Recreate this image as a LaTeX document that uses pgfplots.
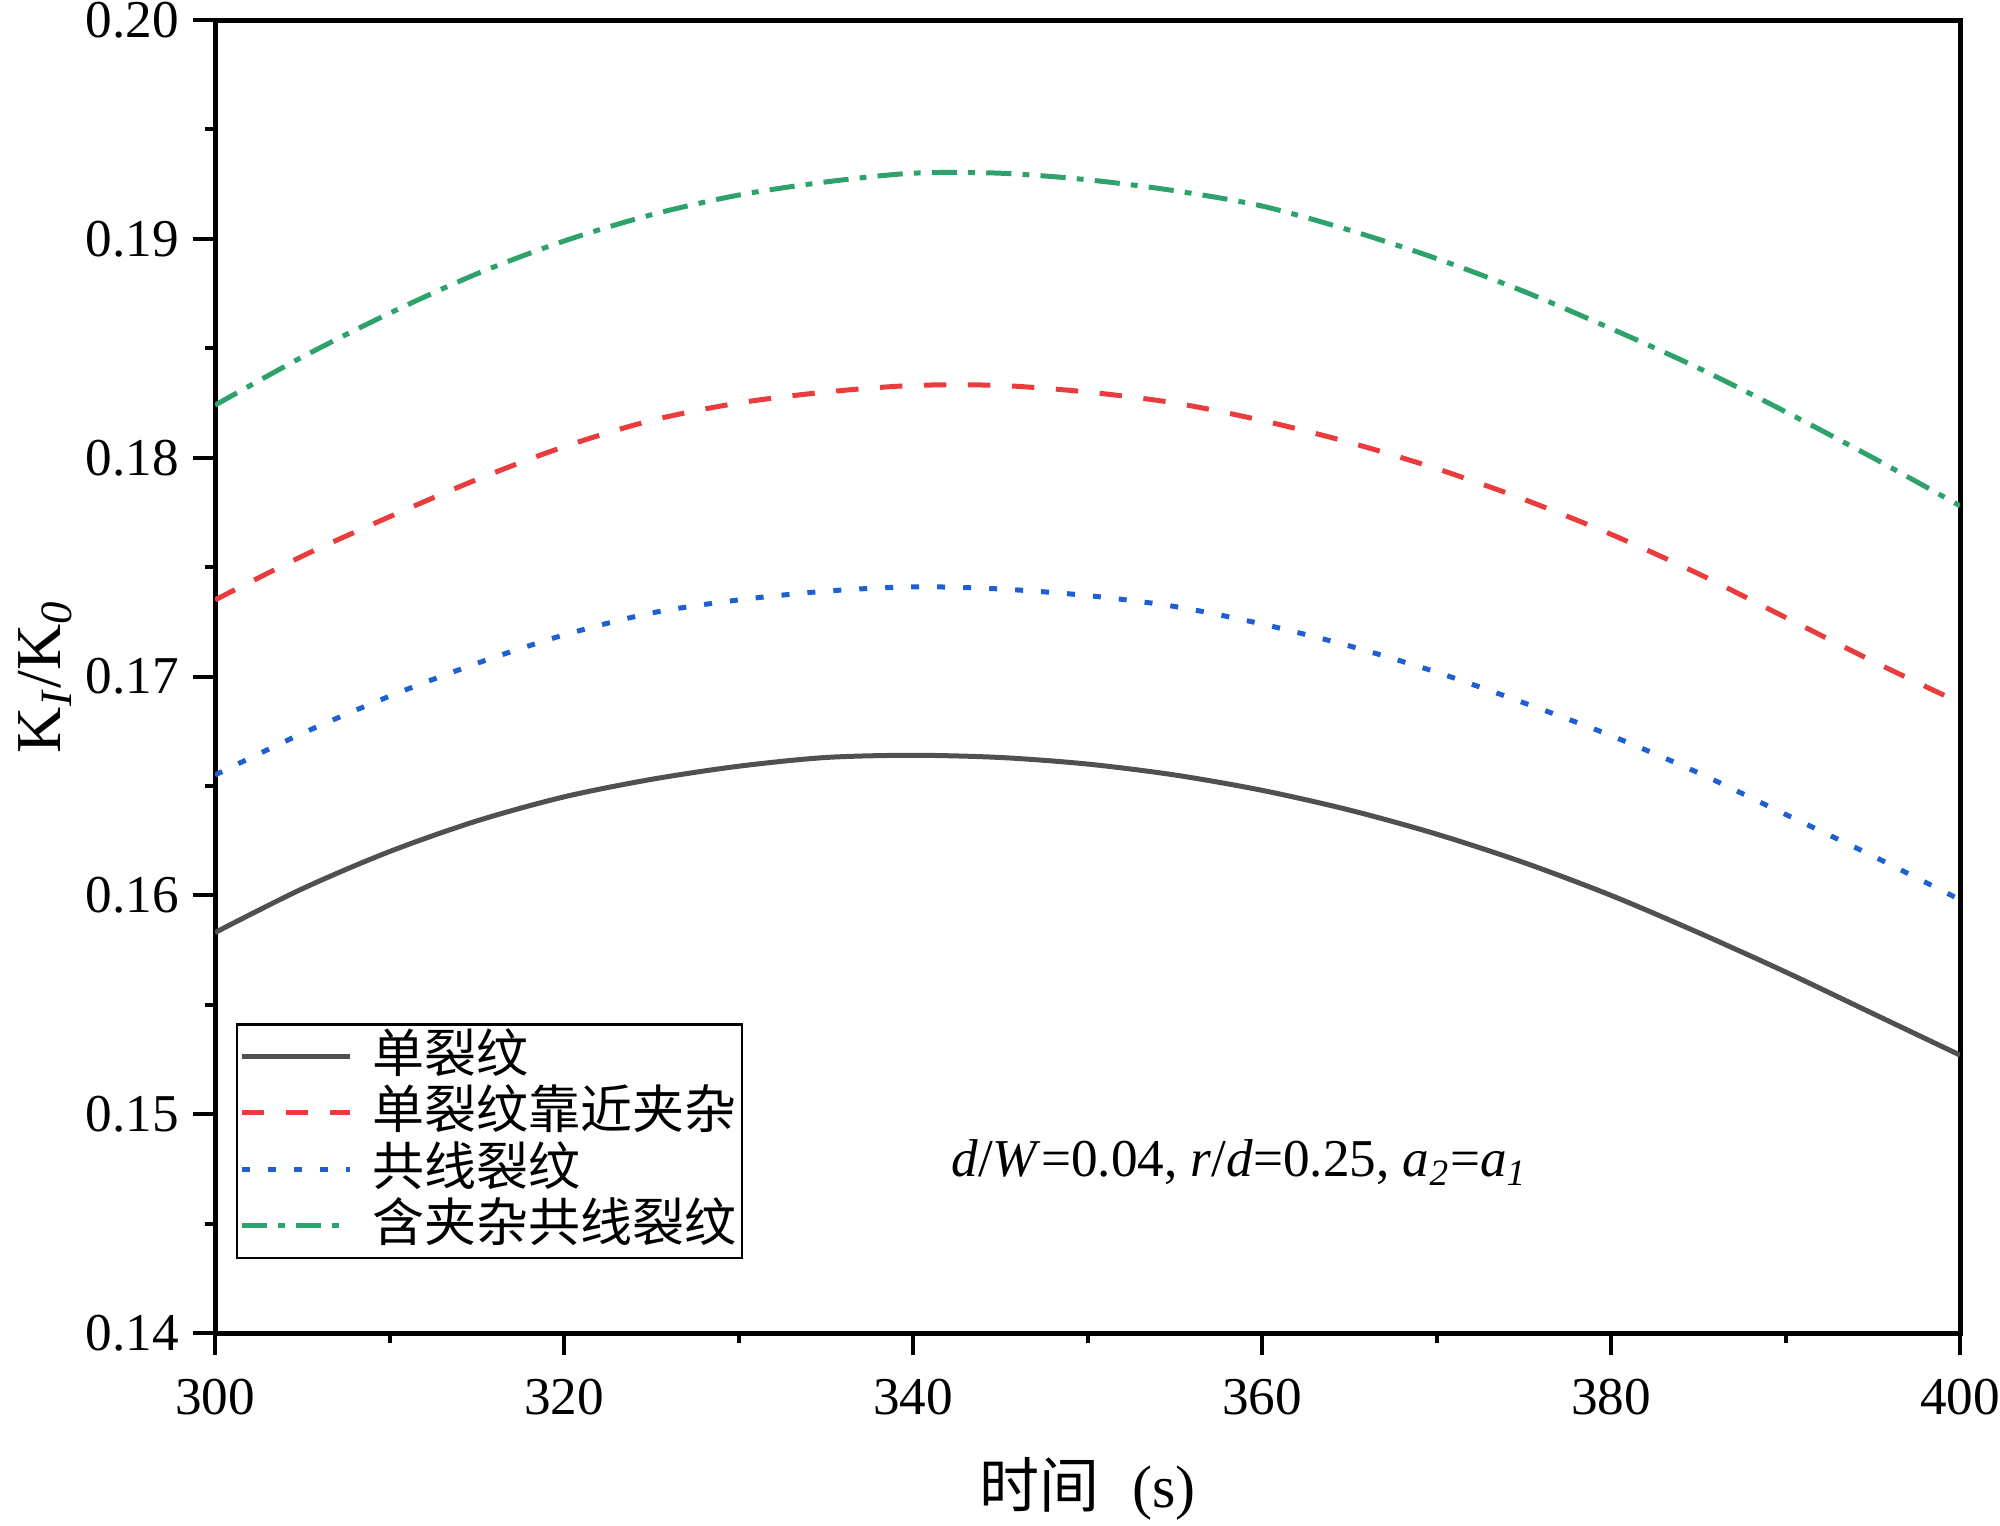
\documentclass[border=0pt]{standalone}
\usepackage{pgfplots}
\pgfplotsset{compat=1.18}
\usepackage{fontspec}
\setmainfont{Liberation Serif}
\newfontfamily\cjk{Noto Sans CJK SC}
\definecolor{lgray}{RGB}{80,80,80}
\definecolor{lred}{RGB}{234,60,60}
\definecolor{lblue}{RGB}{30,96,210}
\definecolor{lgreen}{RGB}{46,162,108}
\begin{document}
\begin{tikzpicture}
\begin{axis}[
  scale only axis, width=436.25pt, height=328.25pt,
  xmin=300, xmax=400, ymin=0.14, ymax=0.20,
  xtick={300,320,340,360,380,400}, minor x tick num=1,
  ytick={0.14,0.15,0.16,0.17,0.18,0.19,0.20}, minor y tick num=1,
  tick pos=left, tick align=outside,
  major tick length=5.5pt, minor tick length=2.5pt,
  every tick/.style={line width=1pt, black},
  axis line style={line width=1.25pt},
  /pgf/number format/assume math mode=true,
  ticklabel style={font=\fontsize{13.3pt}{15pt}\selectfont},
  yticklabel style={/pgf/number format/.cd, fixed, fixed zerofill, precision=2},
  xticklabel style={/pgf/number format/.cd, fixed, precision=0},
  xticklabel shift=2.5pt,
  scaled y ticks=false,
  xlabel={{\cjk 时间}\hspace{0.55em}(s)},
  xlabel style={at={(axis description cs:0.5,-0.1188)}, anchor=center, font=\fontsize{15pt}{17pt}\selectfont},
  ylabel={K\textsubscript{\textit{I}}/K\textsubscript{\textit{0}}},
  ylabel style={at={(axis description cs:-0.0974,0.5)}, anchor=center, rotate=0, font=\fontsize{16pt}{18pt}\selectfont},
  legend style={at={(axis description cs:0.012,0.236)}, anchor=north west, draw=black, line width=0.6pt,
    font=\cjk\fontsize{13pt}{14pt}\selectfont, inner xsep=0.5pt, inner ysep=1pt, row sep=0pt,
    cells={anchor=west}, nodes={inner sep=1pt, text height=10pt, text depth=2.1pt}},
  legend cell align=left,
  /tikz/every odd column/.append style={column sep=4pt},
  legend image code/.code={\draw[#1] (0pt,0pt) -- (27pt,0pt);},
]
\addplot[color=lgray, line width=1.25pt, smooth] coordinates {
(300,0.1583) (305,0.1603) (310,0.1620) (315,0.1634) (320,0.1645) (325,0.1653)
(330,0.1659) (335,0.1663) (340,0.1664) (345,0.1663) (350,0.1660) (355,0.1655)
(360,0.1648) (365,0.1639) (370,0.1628) (375,0.1615) (380,0.1600) (385,0.1583)
(390,0.1565) (395,0.1546) (400,0.1527)};
\addlegendentry{单裂纹}
\addplot[color=lred, line width=1.25pt, smooth, dash pattern=on 5.6pt off 5.4pt] coordinates {
(300,0.1735) (305,0.1755) (310,0.1773) (315,0.1790) (320,0.1805) (325,0.1817)
(330,0.1825) (335,0.1830) (340,0.1833) (345,0.1833) (350,0.1830) (355,0.1825)
(360,0.1817) (365,0.1807) (370,0.1795) (375,0.1781) (380,0.1765) (385,0.1747)
(390,0.1727) (395,0.1707) (400,0.1688)};
\addlegendentry{单裂纹靠近夹杂}
\addplot[color=lblue, line width=1.25pt, smooth, dash pattern=on 2pt off 4.5pt] coordinates {
(300,0.1655) (305,0.1674) (310,0.1691) (315,0.1706) (320,0.1719) (325,0.1729)
(330,0.1735) (335,0.1739) (340,0.1741) (345,0.1740) (350,0.1737) (355,0.1732)
(360,0.1724) (365,0.1714) (370,0.1702) (375,0.1688) (380,0.1673) (385,0.1656)
(390,0.1637) (395,0.1618) (400,0.1598)};
\addlegendentry{共线裂纹}
\addplot[color=lgreen, line width=1.25pt, smooth, dash pattern=on 6.3pt off 2.8pt on 1.7pt off 2.8pt] coordinates {
(300,0.1824) (305,0.1846) (310,0.1866) (315,0.1884) (320,0.1899) (325,0.1911)
(330,0.1920) (335,0.1926) (340,0.1930) (345,0.1930) (350,0.1927) (355,0.1922)
(360,0.1915) (365,0.1904) (370,0.1891) (375,0.1876) (380,0.1859) (385,0.1841)
(390,0.1821) (395,0.1800) (400,0.1778)};
\addlegendentry{含夹杂共线裂纹}
\node[font=\fontsize{13.3pt}{15pt}\selectfont] at (axis cs:358.7,0.1478)
  {\textit{d}/\textit{W}=0.04, \textit{r}/\textit{d}=0.25, \textit{a}\textsubscript{\textit{2}}=\textit{a}\textsubscript{\textit{1}}};
\end{axis}
\pgfresetboundingbox
\path (-53.75pt,-48pt) rectangle (446.25pt,333.25pt);
\end{tikzpicture}
\end{document}
